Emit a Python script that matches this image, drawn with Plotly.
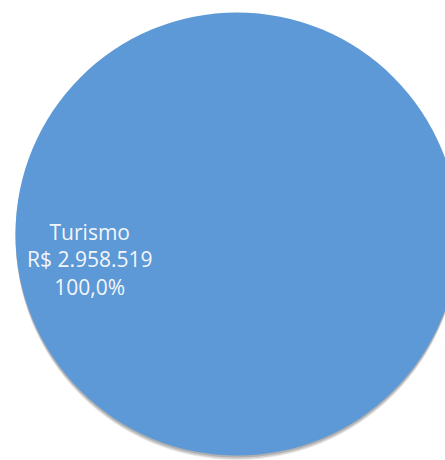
import plotly.graph_objects as go

categories = ["Turismo"]
values = [2958519]
percent_labels = ["100,0%"]


def fmt_brl(v):
    return "R$ " + f"{v:,.0f}".replace(",", ".")


W, H = 460, 460          # page is cropped to 445 px wide by the window
main_color = "#5C99D6"
x0, x1 = 15.5 / W, 458.5 / W
y0, y1 = (H - 455.5) / H, (H - 12.5) / H

fig = go.Figure()

# soft drop shadow (same data, drawn slightly lower)
for dy, op in [(5, 0.10), (3.5, 0.15), (2, 0.22)]:
    fig.add_trace(go.Pie(
        labels=categories, values=values, sort=False,
        marker=dict(colors=[f"rgba(60,60,60,{op})"], line=dict(width=0)),
        textinfo="none", hoverinfo="skip", showlegend=False,
        domain=dict(x=[x0, x1], y=[max(0, y0 - dy / H), y1 - dy / H]),
    ))

fig.add_trace(go.Pie(
    labels=categories, values=values, sort=False,
    marker=dict(colors=[main_color], line=dict(width=0)),
    textinfo="none", showlegend=False,
    domain=dict(x=[x0, x1], y=[y0, y1]),
))

label_text = "<br>".join([categories[0], fmt_brl(values[0]), percent_labels[0]])
fig.add_annotation(
    text=label_text, x=90 / W, y=1 - 259 / H, xref="paper", yref="paper",
    showarrow=False, xanchor="center", yanchor="middle", align="center",
    font=dict(family="Open Sans, Liberation Sans, sans-serif", size=21, color="#F4F6FA"),
)

fig.update_layout(
    width=W, height=H,
    margin=dict(l=0, r=0, t=0, b=0),
    paper_bgcolor="white", plot_bgcolor="white",
)

fig.write_html(
    "out.html",
    config={"displayModeBar": False},
    post_script=(
        "document.body.style.margin='0';"
        "document.body.style.overflow='hidden';"
        "document.documentElement.style.overflow='hidden';"
    ),
)
